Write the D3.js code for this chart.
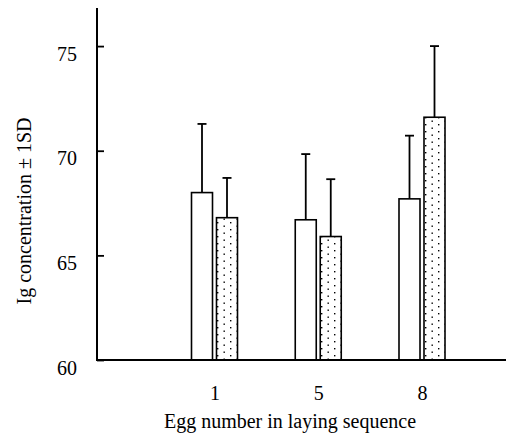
<!DOCTYPE html>
<html>
<head>
<meta charset="utf-8">
<script src="https://cdn.jsdelivr.net/npm/d3@7/dist/d3.min.js"></script>
<style>
  html, body { margin: 0; padding: 0; background: #fff; }
  svg { display: block; }
  svg text { font-family: "Liberation Serif", "Times New Roman", serif !important; fill: #000; }
</style>
</head>
<body>
<svg id="chart" width="507" height="441"></svg>
<script>
// Data
const categories = ["1", "5", "8"];
const seriesNames = ["open", "dotted"];
const openMeans = [68.0, 66.7, 67.7];
const openSD = [3.28, 3.14, 3.02];
const dottedMeans = [66.8, 65.9, 71.6];
const dottedSD = [1.9, 2.74, 3.4];
const yTicks = [60, 65, 70, 75];
const xTitle = "Egg number in laying sequence";
const yTitle = "Ig concentration \u00b1 1SD";

const FONT = "'Liberation Serif', 'Times New Roman', serif";
const svg = d3.select("#chart");

// Pattern for dotted bars
const defs = svg.append("defs");
const pat = defs.append("pattern")
  .attr("id", "dots").attr("patternUnits", "userSpaceOnUse")
  .attr("width", 13).attr("height", 7);
pat.append("rect").attr("width", 13).attr("height", 7).attr("fill", "#fff");
pat.append("rect").attr("x", 2.5).attr("y", 1.5).attr("width", 1.4).attr("height", 1.4).attr("fill", "#000");
pat.append("rect").attr("x", 9).attr("y", 5).attr("width", 1.4).attr("height", 1.4).attr("fill", "#000");

const axisX0 = 97, axisX1 = 506, axisY = 360, axisTop = 8;

const y = d3.scaleLinear().domain([60, 76.82]).range([axisY, axisTop]);
const x = d3.scalePoint().domain(categories).range([214.5, 422]);
const xSub = d3.scaleBand().domain(seriesNames).range([-23, 23]).paddingInner(0.16);

const data = [];
categories.forEach((c, i) => {
  data.push({cat: c, s: "open", mean: openMeans[i], sd: openSD[i]});
  data.push({cat: c, s: "dotted", mean: dottedMeans[i], sd: dottedSD[i]});
});

// Error bars
const eb = svg.append("g").attr("stroke", "#000").attr("stroke-width", 1.8).attr("fill", "none");
data.forEach(d => {
  const cx = x(d.cat) + xSub(d.s) + xSub.bandwidth() / 2;
  eb.append("line").attr("x1", cx).attr("x2", cx).attr("y1", y(d.mean)).attr("y2", y(d.mean + d.sd));
  eb.append("line").attr("x1", cx - 4.5).attr("x2", cx + 4.5).attr("y1", y(d.mean + d.sd)).attr("y2", y(d.mean + d.sd));
});

// Bars
svg.append("g").selectAll("rect").data(data).join("rect")
  .attr("x", d => x(d.cat) + xSub(d.s))
  .attr("width", xSub.bandwidth())
  .attr("y", d => y(d.mean))
  .attr("height", d => y(60) - y(d.mean))
  .attr("fill", d => d.s === "open" ? "#fff" : "url(#dots)")
  .attr("stroke", "#000").attr("stroke-width", 1.6);

// Y axis
const yAxis = d3.axisLeft(y).tickValues(yTicks).tickSize(0).tickPadding(20).tickFormat(d3.format("d"));
const gy = svg.append("g").attr("transform", `translate(${axisX0},0)`).call(yAxis)
  .attr("font-family", FONT).attr("font-size", 20);
gy.select(".domain").remove();
gy.selectAll(".tick text").attr("dy", "0.7em");
gy.selectAll(".tick").append("line").attr("x1", 0).attr("x2", 7).attr("stroke", "#000").attr("stroke-width", 1.8);
svg.append("line").attr("x1", axisX0).attr("x2", axisX0).attr("y1", axisTop).attr("y2", axisY + 1)
  .attr("stroke", "#000").attr("stroke-width", 2);

// X axis
const xAxis = d3.axisBottom(x).tickSize(0).tickPadding(0);
const gx = svg.append("g").attr("transform", `translate(0,${axisY})`).call(xAxis)
  .attr("font-family", FONT).attr("font-size", 20);
gx.select(".domain").remove();
gx.selectAll(".tick text").attr("dy", 0).attr("y", 40);
svg.append("line").attr("x1", axisX0).attr("x2", axisX1).attr("y1", axisY).attr("y2", axisY)
  .attr("stroke", "#000").attr("stroke-width", 2);

// Titles
svg.append("text").attr("x", 290).attr("y", 428).attr("text-anchor", "middle")
  .attr("font-family", FONT).attr("font-size", 20).text(xTitle);
svg.append("text").attr("transform", "translate(31,211) rotate(-90)").attr("text-anchor", "middle")
  .attr("font-family", FONT).attr("font-size", 20).text(yTitle);
</script>
</body>
</html>
